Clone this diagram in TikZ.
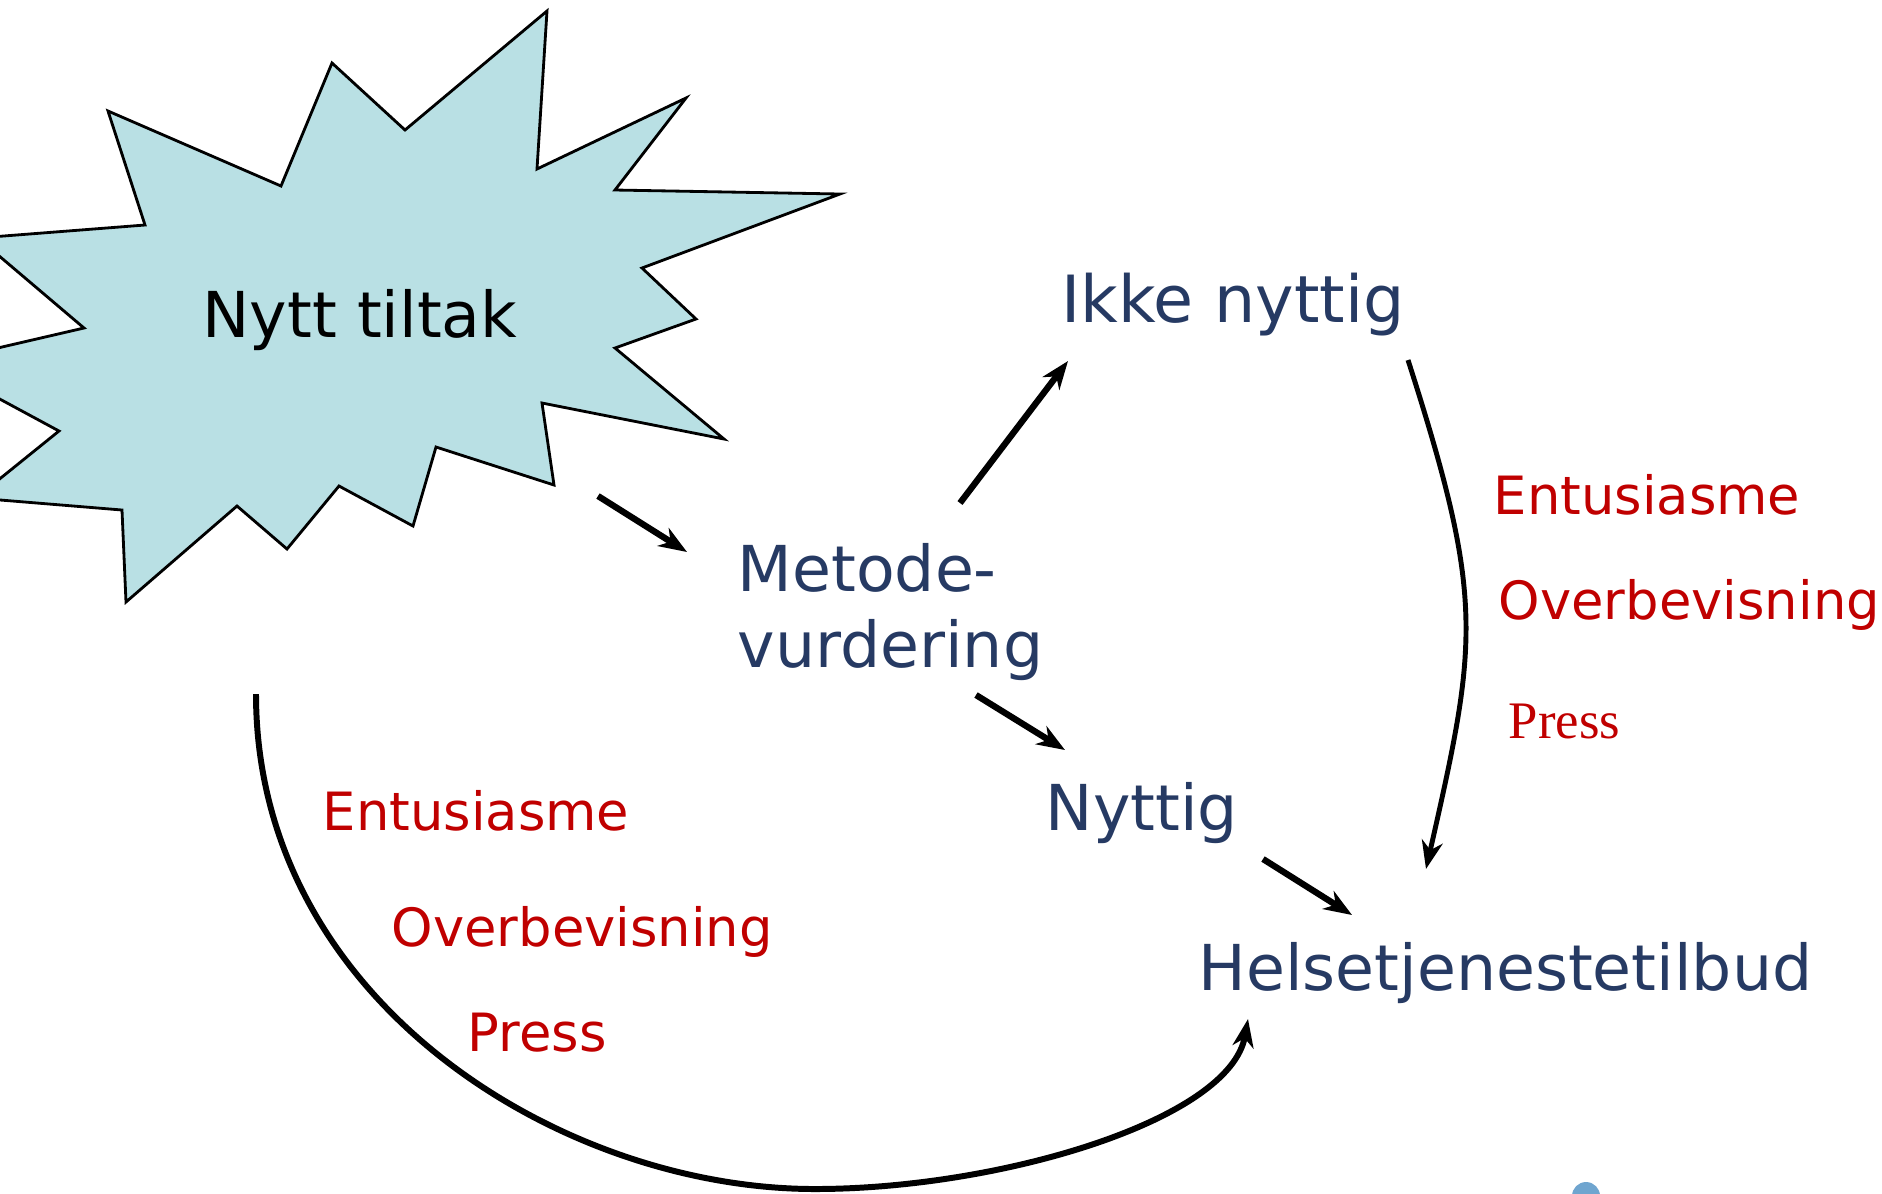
\documentclass[tikz,border=0pt]{standalone}
\usepackage{fontspec}
\setmainfont{DejaVu Sans}
\newfontfamily\pressfont{Liberation Serif}
\usepackage{xcolor}
\usepackage{tikz}
\usetikzlibrary{arrows.meta,positioning,calc}
\definecolor{burstteal}{RGB}{185, 224, 228}
\definecolor{stagenavy}{RGB}{38, 58, 99}
\definecolor{forcered}{RGB}{192, 0, 0}
\definecolor{dotblue}{RGB}{111, 165, 207}

\tikzset{
    stage/.style={text=stagenavy,font=\fontsize{18}{21.6}\selectfont,inner sep=0pt,anchor=base west,align=left},
    force/.style={text=forcered,font=\fontsize{15}{18}\selectfont,inner sep=0pt,anchor=base west},
    flow/.style={-{Stealth[length=8pt,width=6pt,inset=2.5pt]},line width=1.8pt},
    bypass/.style={-{Stealth[length=8pt,width=6pt,inset=2.5pt]},line width=1.4pt}
}

\begin{document}
\begin{tikzpicture}[x=0.01cm,y=-0.01cm]
    \useasboundingbox (0,0) rectangle (1882,1193);
    \clip (0,0) rectangle (1882,1193);

    % Starburst for the new measure
    \filldraw[fill=burstteal,draw=black,line width=0.8pt]
        (547,11) -- (537,169) -- (686,98) -- (615,190) -- (840,194) -- (642,268)
        -- (696,319) -- (615,348) -- (724,439) -- (542,403) -- (554,485) -- (436,447)
        -- (413,526) -- (339,486) -- (287,549) -- (237,506) -- (126,602) -- (122,510)
        -- (-24,498) -- (59,431) -- (-67,363) -- (84,328) -- (-22,238) -- (145,225)
        -- (108,111) -- (281,186) -- (332,63) -- (405,130) -- cycle;
    \node[inner sep=0pt,anchor=base,font=\fontsize{18}{21.6}\selectfont] (tiltak) at (360,337) {Nytt tiltak};

    % Stages
    \node[stage] (metode) at (737,667) {Metode-\\vurdering};
    \node[stage,font=\fontsize{18.5}{22}\selectfont] (ikke) at (1061,322) {Ikke nyttig};
    \node[stage] (nyttig) at (1045,830) {Nyttig};
    \node[stage] (helse) at (1198,990) {Helsetjenestetilbud};

    % Forces on the right
    \node[force] (entR) at (1493,514) {Entusiasme};
    \node[force] (overR) at (1498,619) {Overbevisning};
    \node[force,font=\pressfont\fontsize{15}{18}\selectfont] (pressR) at (1508,738) {Press};

    % Forces on the left
    \node[force] (entL) at (322,830) {Entusiasme};
    \node[force] (overL) at (391,946) {Overbevisning};
    \node[force] (pressL) at (467,1051) {Press};

    % Straight arrows
    \draw[flow] ([shift={(238,159)}]tiltak.base) -- ([shift={(-50,-115)}]metode.base west);
    \draw[flow] ([shift={(223,-164)}]metode.base west) -- ([shift={(7,39)}]ikke.base west);
    \draw[flow] ([shift={(239,28)}]metode.base west) -- ([shift={(20,-80)}]nyttig.base west);
    \draw[flow] ([shift={(218,29)}]nyttig.base west) -- ([shift={(154,-75)}]helse.base west);

    % Curved bypass arrows
    \draw[bypass] ([shift={(347,38)}]ikke.base west) .. controls +(77,240) and +(52,-229) .. ([shift={(228,-121)}]helse.base west);
    \coordinate (loopbottom) at (815,1189);
    \draw[bypass,line width=1.7pt] ([shift={(-104,357)}]tiltak.base) .. controls +(0,306) and +(-255,0) .. (loopbottom)
        .. controls +(185,0) and +(-18,101) .. ([shift={(50,29)}]helse.base west);

    % Cut-off dot at the bottom edge
    \fill[dotblue] (1586,1196) circle[radius=14];
\end{tikzpicture}
\end{document}
